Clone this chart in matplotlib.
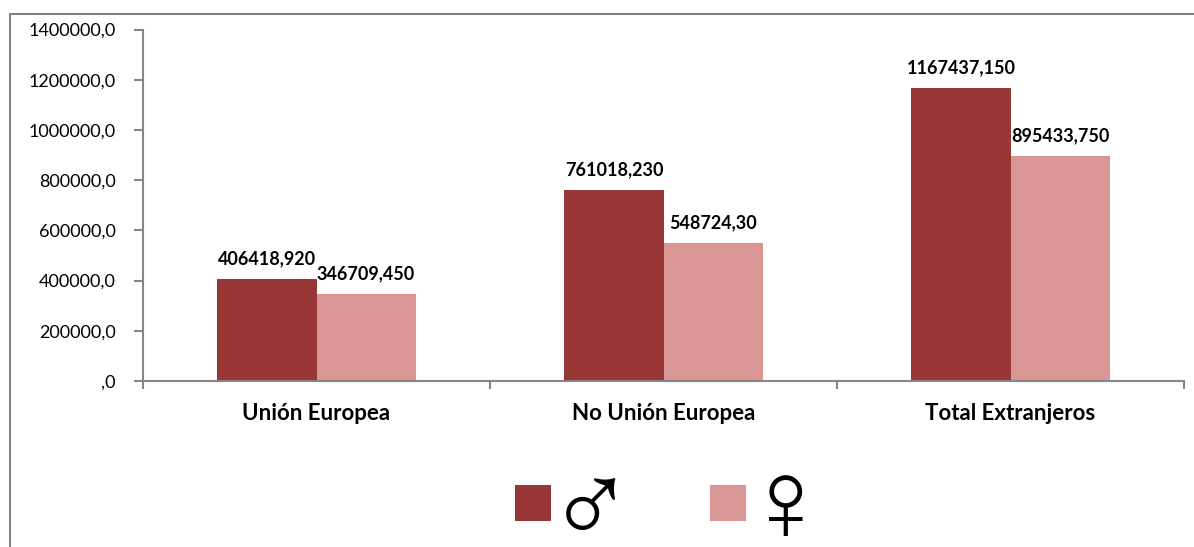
import matplotlib
matplotlib.use('Agg')
import matplotlib.pyplot as plt
from matplotlib.patches import Rectangle
from matplotlib.lines import Line2D
import numpy as np

categories = ['Unión Europea', 'No Unión Europea', 'Total Extranjeros']
male = [406418.920, 761018.230, 1167437.150]
female = [346709.450, 548724.30, 895433.750]
male_labels = ['406418,920', '761018,230', '1167437,150']
female_labels = ['346709,450', '548724,30', '895433,750']
yticks = [0, 200000, 400000, 600000, 800000, 1000000, 1200000, 1400000]
ytick_labels = [',0', '200000,0', '400000,0', '600000,0', '800000,0', '1000000,0', '1200000,0', '1400000,0']

W, H = 1194, 547
MALE_COL = '#993737'
FEMALE_COL = '#d99694'
AXIS_COL = '#868686'

plt.rcParams['font.family'] = ['Lato', 'DejaVu Sans']

fig = plt.figure(figsize=(W / 100, H / 100), dpi=100)
ax = fig.add_axes([143 / W, 1 - 381 / H, (1184 - 143) / W, (381 - 29.5) / H])

x = np.arange(len(categories)) + 0.5
bw = 0.2855
ax.bar(x - bw / 2, male, bw, color=MALE_COL, zorder=2)
ax.bar(x + bw / 2, female, bw, color=FEMALE_COL, zorder=2)

for xi, v, lab in zip(x - bw / 2, male, male_labels):
    ax.annotate(lab, (xi, v), xytext=(0, 8.5), textcoords='offset points', ha='center', va='bottom',
                fontsize=13, fontweight='bold', color='black')
for xi, v, lab in zip(x + bw / 2, female, female_labels):
    ax.annotate(lab, (xi, v), xytext=(0, 8.5), textcoords='offset points', ha='center', va='bottom',
                fontsize=13, fontweight='bold', color='black')

ax.set_xlim(0, 3)
ax.set_ylim(0, 1400000)
ax.set_yticks(yticks)
ax.set_yticklabels(ytick_labels, fontsize=13, color='black')
ax.set_xticks([0, 1, 2, 3])
ax.set_xticklabels([])
ax.tick_params(axis='y', length=6.5, width=1.5, color=AXIS_COL, pad=13)
ax.tick_params(axis='x', length=5.5, width=1.5, color=AXIS_COL)
for s in ['top', 'right']:
    ax.spines[s].set_visible(False)
for s in ['left', 'bottom']:
    ax.spines[s].set_color(AXIS_COL)
    ax.spines[s].set_linewidth(1.5)

# category names sit below the axis
for xi, name in zip(x, categories):
    ax.annotate(name, (xi, 0), xytext=(0, -23.5), textcoords='offset points', ha='center', va='center',
                fontsize=16, fontweight='bold', color='black')

# outer chart frame, open at the right and bottom
fig.add_artist(Line2D([10 / W, 10 / W], [0, 1 - 14 / H], color='#7f7f7f', lw=1.4))
fig.add_artist(Line2D([10 / W, 1], [1 - 14 / H, 1 - 14 / H], color='#7f7f7f', lw=1.4))

# legend
for px, col, sym, tx, ty in [(515, MALE_COL, '♂', 591, 513), (710, FEMALE_COL, '♀', 786, 511)]:
    fig.add_artist(Rectangle((px / W, 1 - 521 / H), 36 / W, 36 / H, color=col, lw=0, transform=fig.transFigure))
    fig.text(tx / W, 1 - ty / H, sym, family='Liberation Sans', fontsize=84, ha='center', va='center', color='black')

plt.savefig('out.png', dpi=100)
